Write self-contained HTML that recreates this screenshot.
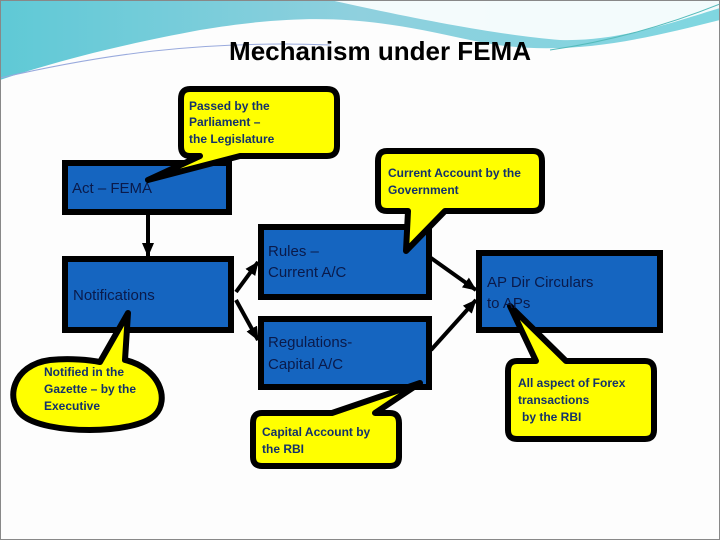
<!DOCTYPE html>
<html><head><meta charset="utf-8"><style>
html,body{margin:0;padding:0;background:#fff}
svg{display:block}
text{font-family:"Liberation Sans",sans-serif}
</style></head><body>
<svg width="720" height="540" viewBox="0 0 720 540" xmlns="http://www.w3.org/2000/svg">
<defs>
<linearGradient id="hg" x1="0" y1="0" x2="1" y2="0">
<stop offset="0" stop-color="#5fc9d6"/><stop offset="0.5" stop-color="#8fd0de"/><stop offset="1" stop-color="#7fd6e0"/>
</linearGradient>
<marker id="ah" markerWidth="14" markerHeight="12" refX="13" refY="6" orient="auto" markerUnits="userSpaceOnUse">
<path d="M0,0 L14,6 L0,12 z" fill="#000"/></marker>
</defs>
<rect width="720" height="540" fill="#fdfdfd"/>
<path d="M0,0 H720 V20 C640,40 560,60 470,40 C380,20 320,10 200,30 C120,45 60,60 0,80 Z" fill="url(#hg)"/>
<path d="M330,0 C420,20 500,35 560,40 C620,42 680,20 720,8 V0 Z" fill="#fff" opacity="0.9"/>
<path d="M0,78 C100,55 200,40 330,45" stroke="#9ad" stroke-width="1" fill="none"/>
<path d="M550,50 C620,40 680,20 720,4" stroke="#5bb" stroke-width="1" fill="none"/>
<rect x="0.5" y="0.5" width="719" height="539" fill="none" stroke="#888"/>
<text x="380" y="60" font-size="26" font-weight="bold" text-anchor="middle" fill="#000">Mechanism under FEMA</text>

<g stroke="#000" stroke-width="6" fill="#1565c0">
<rect x="65" y="163" width="164" height="49"/>
<rect x="65" y="259" width="166" height="71"/>
<rect x="261" y="227" width="168" height="70"/>
<rect x="261" y="319" width="168" height="68"/>
<rect x="479" y="253" width="181" height="77"/>
</g>
<g stroke="#000" stroke-width="4" fill="none" marker-end="url(#ah)">
<line x1="148" y1="215" x2="148" y2="256"/>
<line x1="236" y1="292" x2="258" y2="262"/>
<line x1="236" y1="300" x2="258" y2="340"/>
<line x1="431" y1="258" x2="476" y2="290"/>
<line x1="431" y1="350" x2="476" y2="300"/>
</g>
<g fill="#ffff00" stroke="#000" stroke-width="6" stroke-linejoin="round">
<path d="M190,89 H327 Q337,89 337,99 V146 Q337,156 327,156 H240 L148,180 L200,156 H190 Q181,156 181,146 V99 Q181,89 190,89 Z"/>
<path d="M387,151 H533 Q542,151 542,161 V202 Q542,211 533,211 H445 L406,251 L408,211 H387 Q378,211 378,202 V161 Q378,151 387,151 Z"/>
<path d="M100,362 L128,313 L125,360 C160,368 170,400 155,415 C135,435 45,435 22,415 C5,400 12,365 50,360 C70,358 90,360 100,362 Z"/>
<path d="M262,413 H332 L420,383 L375,413 H390 Q399,413 399,423 V457 Q399,466 390,466 H262 Q253,466 253,457 V423 Q253,413 262,413 Z"/>
<path d="M517,361 H536 L510,306 L566,361 H645 Q654,361 654,371 V430 Q654,439 645,439 H517 Q508,439 508,430 V371 Q508,361 517,361 Z"/>
</g>
<g font-size="15" fill="#0a1a4a">
<text x="72" y="193">Act – FEMA</text>
<text x="73" y="300">Notifications</text>
<text x="268" y="256">Rules –</text>
<text x="268" y="277">Current A/C</text>
<text x="268" y="347">Regulations-</text>
<text x="268" y="369">Capital A/C</text>
<text x="487" y="287">AP Dir Circulars</text>
<text x="487" y="308">to APs</text>
</g>
<g font-size="12" font-weight="bold" fill="#13316b">
<text x="189" y="110">Passed by the</text>
<text x="189" y="126">Parliament –</text>
<text x="189" y="143">the Legislature</text>
<text x="388" y="177">Current Account by the</text>
<text x="388" y="194">Government</text>
<text x="44" y="376">Notified in the</text>
<text x="44" y="393">Gazette – by the</text>
<text x="44" y="410">Executive</text>
<text x="262" y="436">Capital Account by</text>
<text x="262" y="453">the RBI</text>
<text x="518" y="387">All aspect of Forex</text>
<text x="518" y="404">transactions</text>
<text x="522" y="421">by the RBI</text>
</g>
</svg>
</body></html>
